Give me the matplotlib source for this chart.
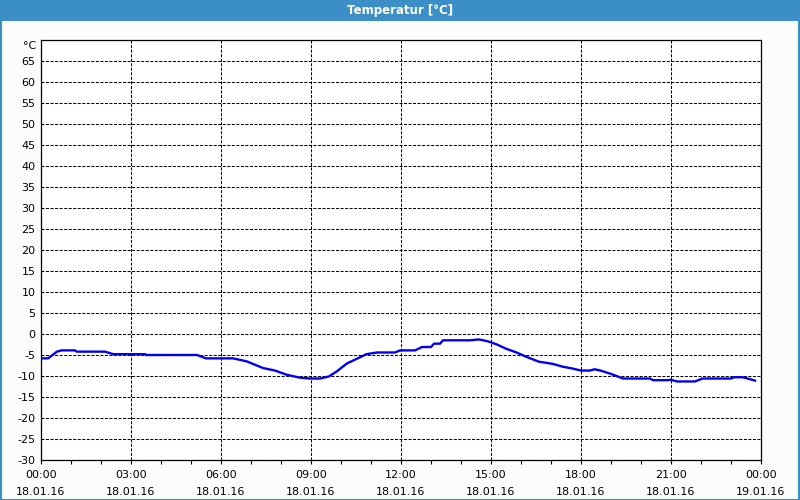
import matplotlib
matplotlib.use("Agg")
import matplotlib.pyplot as plt
from matplotlib.patches import Rectangle
from matplotlib.ticker import MultipleLocator

title = "Temperatur [°C]"
hours = [0.0, 0.24, 0.53, 0.69, 1.13, 1.19, 2.13, 2.41, 3.47, 3.5, 5.2, 5.5, 6.4, 6.85, 7.4, 7.8, 8.19,
         8.63, 8.97, 9.3, 9.6, 9.86, 10.2, 10.5, 10.85, 11.2, 11.8, 11.97, 12.47, 12.7, 13.0, 13.1, 13.3,
         13.4, 14.3, 14.6, 14.9, 15.2, 15.5, 15.85, 16.2, 16.6, 17.05, 17.4, 17.7, 18.0, 18.3, 18.45,
         18.65, 19.0, 19.4, 20.3, 20.4, 20.9, 21.0, 21.2, 21.8, 22.05, 22.5, 22.6, 23.0, 23.1, 23.4,
         23.6, 23.8]
temps = [-5.8, -5.8, -4.2, -3.9, -3.9, -4.2, -4.2, -4.8, -4.8, -5.0, -5.0, -5.8, -5.8, -6.5, -8.1, -8.7,
         -9.7, -10.4, -10.6, -10.6, -10.1, -8.9, -7.0, -6.0, -4.8, -4.4, -4.4, -3.9, -3.9, -3.1, -3.1,
         -2.3, -2.3, -1.5, -1.5, -1.3, -1.75, -2.5, -3.5, -4.4, -5.5, -6.6, -7.1, -7.8, -8.2, -8.7, -8.7,
         -8.4, -8.7, -9.5, -10.6, -10.6, -11.0, -11.0, -10.9, -11.3, -11.3, -10.6, -10.6, -10.6, -10.6,
         -10.3, -10.3, -10.7, -11.1]
xtick_hours = [0, 3, 6, 9, 12, 15, 18, 21, 24]
xtick_labels = ["00:00\n18.01.16", "03:00\n18.01.16", "06:00\n18.01.16", "09:00\n18.01.16",
                "12:00\n18.01.16", "15:00\n18.01.16", "18:00\n18.01.16", "21:00\n18.01.16",
                "00:00\n19.01.16"]
yticks = list(range(-30, 70, 5))

W, H = 800, 500
fig = plt.figure(figsize=(8, 5), dpi=100)
fig.patch.set_facecolor("#FAFDFA")

# title bar and frame
fig.add_artist(Rectangle((0, 1 - 21 / H), 1, 21 / H, transform=fig.transFigure,
                         facecolor="#3C8FC6", edgecolor="none"))
fig.text(0.5, 1 - 10.5 / H, title, color="white", ha="center", va="center",
         fontsize=8.5, fontweight="bold")
fig.add_artist(Rectangle((0.5 / W, 0.5 / H), 1 - 1.5 / W, 1 - 1.5 / H, transform=fig.transFigure,
                         facecolor="none", edgecolor="#3C8FC6", linewidth=1.5))

ax = fig.add_axes([41 / W, 40 / H, 720 / W, 420 / H])
ax.set_facecolor("white")
ax.plot(hours, temps, color="#0000F0", linewidth=1.7, solid_joinstyle="miter")
ax.set_xlim(0, 24)
ax.set_ylim(-30, 70)
ax.set_xticks(xtick_hours)
ax.set_xticklabels(xtick_labels, fontsize=8, linespacing=1.9)
ax.xaxis.set_minor_locator(MultipleLocator(1))
ax.set_yticks(yticks)
ax.set_yticklabels([str(v) for v in yticks], fontsize=8)
ax.tick_params(axis="x", which="both", length=3, width=0.8, direction="out", pad=4)
ax.tick_params(axis="y", length=0, pad=4)
ax.grid(True, which="major", color="black", linestyle=(0, (2.9, 1.45)), linewidth=0.75)
for sp in ax.spines.values():
    sp.set_linewidth(0.9)
    sp.set_color("black")
ax.text(-0.006, 68.6, "°C", transform=ax.get_yaxis_transform(), ha="right", va="center", fontsize=8)

fig.savefig("out.png", dpi=100, facecolor=fig.get_facecolor())
